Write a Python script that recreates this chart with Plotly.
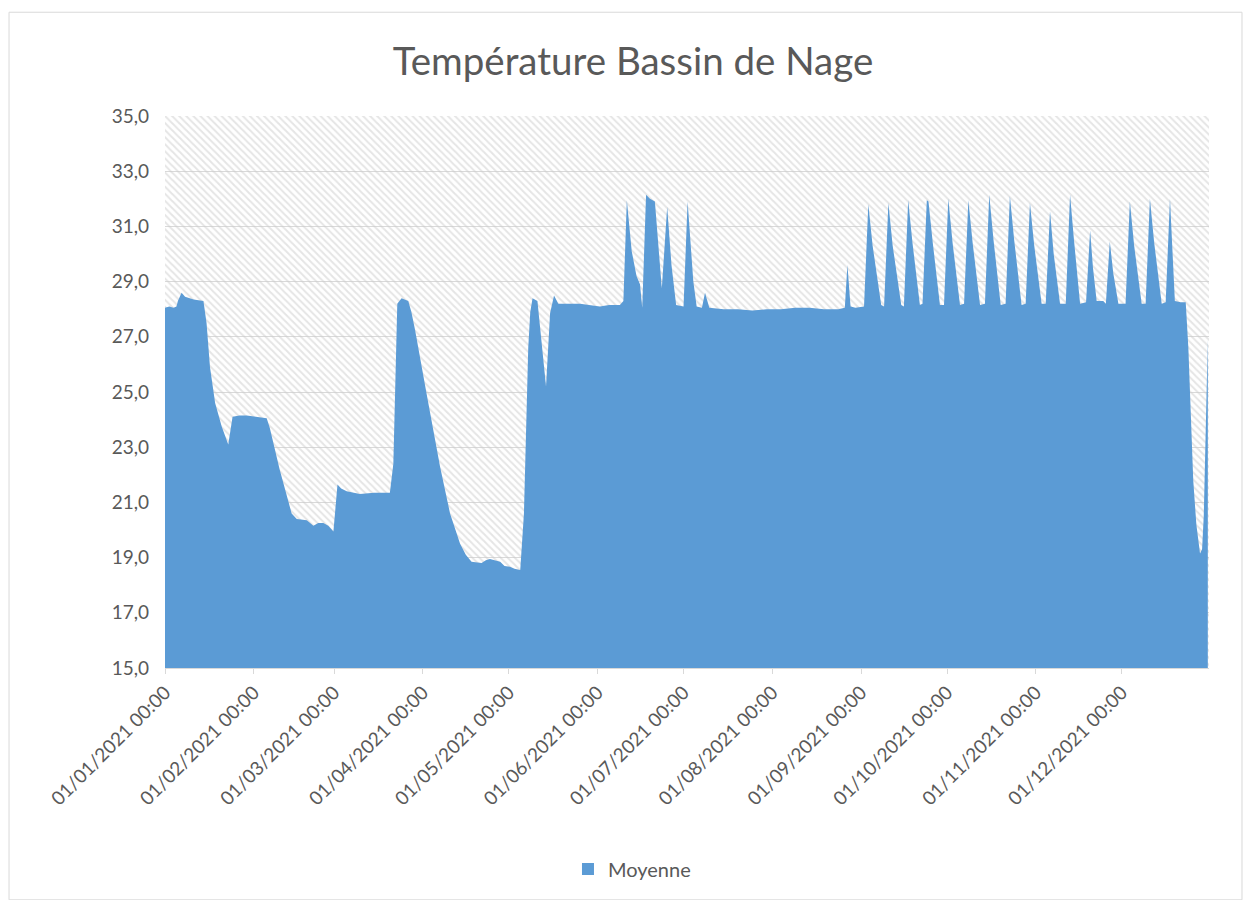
import plotly.graph_objects as go

# ---- data ----
dates = [
    "2021-01-01 00:00", "2021-01-02 12:00", "2021-01-04 00:00", "2021-01-05 00:00", "2021-01-05 12:00",
    "2021-01-06 19:00", "2021-01-08 00:00", "2021-01-11 00:00", "2021-01-14 10:00", "2021-01-15 12:00",
    "2021-01-16 17:00", "2021-01-18 12:00", "2021-01-20 19:00", "2021-01-23 02:00", "2021-01-24 14:00",
    "2021-01-27 00:00", "2021-01-29 12:00", "2021-02-02 00:00", "2021-02-05 12:00", "2021-02-06 14:00",
    "2021-02-10 00:00", "2021-02-14 05:00", "2021-02-16 00:00", "2021-02-19 12:00", "2021-02-21 19:00",
    "2021-02-23 12:00", "2021-02-25 07:00", "2021-02-27 00:00", "2021-02-28 19:00", "2021-03-02 05:00",
    "2021-03-03 12:00", "2021-03-05 10:00", "2021-03-10 00:00", "2021-03-15 00:00", "2021-03-20 12:00",
    "2021-03-21 17:00", "2021-03-22 12:00", "2021-03-23 02:00", "2021-03-24 14:00", "2021-03-26 22:00",
    "2021-03-28 00:00", "2021-03-29 07:00", "2021-04-02 07:00", "2021-04-07 00:00", "2021-04-10 12:00",
    "2021-04-14 00:00", "2021-04-16 00:00", "2021-04-18 00:00", "2021-04-21 12:00", "2021-04-23 00:00",
    "2021-04-24 10:00", "2021-04-26 00:00", "2021-04-28 00:00", "2021-04-29 12:00", "2021-05-01 10:00",
    "2021-05-03 00:00", "2021-05-05 00:00", "2021-05-06 07:00", "2021-05-07 00:00", "2021-05-07 19:00",
    "2021-05-08 12:00", "2021-05-09 07:00", "2021-05-11 00:00", "2021-05-12 12:00", "2021-05-14 00:00",
    "2021-05-15 10:00", "2021-05-16 19:00", "2021-05-18 07:00", "2021-05-22 00:00", "2021-05-25 22:00",
    "2021-05-29 00:00", "2021-06-01 19:00", "2021-06-05 00:00", "2021-06-08 19:00", "2021-06-10 00:00",
    "2021-06-11 05:00", "2021-06-12 22:00", "2021-06-14 14:00", "2021-06-15 19:00", "2021-06-16 14:00",
    "2021-06-17 22:00", "2021-06-19 07:00", "2021-06-21 00:00", "2021-06-23 10:00", "2021-06-25 07:00",
    "2021-06-26 19:00", "2021-06-28 10:00", "2021-07-01 00:00", "2021-07-02 10:00", "2021-07-04 10:00",
    "2021-07-05 14:00", "2021-07-07 10:00", "2021-07-08 12:00", "2021-07-10 00:00", "2021-07-15 00:00",
    "2021-07-20 00:00", "2021-07-25 00:00", "2021-07-30 00:00", "2021-08-04 00:00", "2021-08-09 00:00",
    "2021-08-14 00:00", "2021-08-19 00:00", "2021-08-24 00:00", "2021-08-26 07:00", "2021-08-27 05:00",
    "2021-08-28 07:00", "2021-08-30 00:00",
    "2021-09-02 00:00", "2021-09-03 12:00", "2021-09-05 00:00", "2021-09-08 00:00",
    "2021-09-09 00:00", "2021-09-10 12:00", "2021-09-12 00:00", "2021-09-15 00:00",
    "2021-09-15 22:00", "2021-09-17 10:00", "2021-09-18 22:00", "2021-09-21 12:00",
    "2021-09-22 10:00", "2021-09-23 22:00", "2021-09-24 12:00", "2021-09-26 00:00", "2021-09-28 12:00",
    "2021-09-29 22:00", "2021-10-01 10:00", "2021-10-02 22:00", "2021-10-05 12:00",
    "2021-10-06 22:00", "2021-10-08 10:00", "2021-10-09 22:00", "2021-10-12 12:00",
    "2021-10-14 05:00", "2021-10-15 17:00", "2021-10-17 05:00", "2021-10-19 17:00",
    "2021-10-21 10:00", "2021-10-22 22:00", "2021-10-24 10:00", "2021-10-27 00:00",
    "2021-10-28 10:00", "2021-10-29 22:00", "2021-10-31 10:00", "2021-11-03 00:00",
    "2021-11-04 10:00", "2021-11-05 22:00", "2021-11-07 05:00", "2021-11-09 10:00",
    "2021-11-11 10:00", "2021-11-12 22:00", "2021-11-14 07:00", "2021-11-16 10:00",
    "2021-11-18 12:00", "2021-11-19 22:00", "2021-11-20 22:00", "2021-11-22 05:00", "2021-11-24 12:00",
    "2021-11-25 10:00", "2021-11-26 19:00", "2021-11-28 00:00", "2021-11-29 19:00",
    "2021-12-02 07:00", "2021-12-03 19:00", "2021-12-05 07:00", "2021-12-07 22:00",
    "2021-12-09 07:00", "2021-12-10 19:00", "2021-12-12 07:00", "2021-12-14 22:00",
    "2021-12-16 07:00", "2021-12-17 19:00", "2021-12-18 14:00", "2021-12-19 12:00",
    "2021-12-21 12:00", "2021-12-23 07:00", "2021-12-24 05:00", "2021-12-25 22:00", "2021-12-27 00:00",
    "2021-12-28 07:00", "2021-12-29 00:00", "2021-12-29 14:00", "2021-12-30 14:00", "2021-12-31 00:00",
]

moyenne = [
    28.05, 28.1, 28.05, 28.1, 28.3,
    28.6, 28.45, 28.35, 28.3, 27.5,
    25.9, 24.6, 23.75, 23.1, 24.1,
    24.15, 24.15, 24.1, 24.05, 23.7,
    22.2, 20.6, 20.4, 20.35, 20.15,
    20.25, 20.25, 20.15, 19.95, 21.65,
    21.5, 21.4, 21.3, 21.35, 21.35,
    22.4, 26.0, 28.2, 28.4, 28.3,
    27.9, 27.25, 24.95, 22.3, 20.6,
    19.5, 19.1, 18.85, 18.8, 18.9,
    18.95, 18.9, 18.85, 18.7, 18.67,
    18.6, 18.55, 20.6, 24.0, 26.6,
    27.9, 28.4, 28.3, 26.8, 25.2,
    27.85, 28.5, 28.2, 28.2, 28.2,
    28.15, 28.1, 28.15, 28.15, 28.3,
    31.95, 30.1, 29.2, 28.9, 28.05,
    32.15, 32.0, 31.9, 28.75, 31.7,
    29.6, 28.15, 28.1, 31.9, 29.0,
    28.1, 28.05, 28.6, 28.05, 28.0,
    28.0, 27.95, 28.0, 28.0, 28.05,
    28.05, 28.0, 28.0, 28.05, 29.6,
    28.1, 28.05,
    28.1, 31.8, 30.3, 28.15,
    28.1, 31.85, 30.3, 28.15,
    28.1, 31.95, 30.4, 28.15,
    28.2, 31.95, 31.9, 30.4, 28.15,
    28.15, 32.0, 30.4, 28.15,
    28.2, 31.95, 30.4, 28.15,
    28.2, 32.15, 30.5, 28.15,
    28.2, 32.1, 30.5, 28.15,
    28.2, 31.85, 30.3, 28.2,
    28.2, 31.55, 30.0, 28.2,
    28.2, 32.15, 30.5, 28.2,
    28.25, 30.85, 29.5, 28.3, 28.3,
    28.2, 30.45, 29.3, 28.2,
    28.2, 31.9, 30.3, 28.2,
    28.2, 32.0, 30.4, 28.2,
    28.25, 32.0, 30.2, 28.3,
    28.25, 28.25, 26.6, 21.8, 20.2,
    19.15, 19.3, 20.5, 25.0, 26.9,
]

series_name = "Moyenne"
chart_title = "Température Bassin de Nage"
Y_MIN, Y_MAX, Y_STEP = 15, 35, 2
X_START, X_END = "2021-01-01 00:00", "2021-12-31 10:00"

BLUE = "#5b9bd5"
TEXT = "#595959"
GRID = "#d9d9d9"
FONT = "Lato"

fig = go.Figure()

# hatched plot-area background (Excel-like pattern fill)
fig.add_trace(go.Scatter(
    x=[X_START, X_END], y=[Y_MAX, Y_MAX], mode="lines", fill="tozeroy",
    line=dict(width=0), fillcolor="rgba(0,0,0,0)",
    fillpattern=dict(shape="\\", fgcolor="#cccccc", bgcolor="rgba(0,0,0,0)", size=5, solidity=0.4),
    hoverinfo="skip", showlegend=False,
))

fig.add_trace(go.Scatter(
    x=dates, y=moyenne, mode="lines", fill="tozeroy",
    line=dict(width=0, color=BLUE), fillcolor=BLUE,
    name=series_name, showlegend=False,
))
# legend entry: small square like Excel
fig.add_trace(go.Scatter(
    x=[None], y=[None], mode="markers", name=series_name,
    marker=dict(symbol="square", size=12, color=BLUE),
))

fig.update_layout(
    width=1244, height=892,
    margin=dict(l=157, r=43, t=108, b=232),
    paper_bgcolor="white", plot_bgcolor="white",
    separators=", ",
    title=dict(text=chart_title, x=0.5024, xref="container", xanchor="center",
               y=0.9395, yanchor="middle", font=dict(family=FONT, size=38.5, color=TEXT)),
    showlegend=True,
    legend=dict(orientation="h", x=0.386, xanchor="left", y=-0.364, yanchor="middle",
                font=dict(family=FONT, size=20, color=TEXT), itemsizing="constant"),
    xaxis=dict(
        type="date", range=[X_START, X_END], tick0="2021-01-01", dtick="M1",
        tickformat="%d/%m/%Y %H:%M", tickangle=-45,
        ticks="outside", ticklen=5, tickcolor=GRID,
        showline=True, linecolor=GRID, showgrid=False, zeroline=False,
        tickfont=dict(family=FONT, size=19, color=TEXT),
    ),
    yaxis=dict(
        range=[Y_MIN, Y_MAX], dtick=Y_STEP, tick0=Y_MIN, tickformat=".1f",
        showgrid=True, gridcolor=GRID, zeroline=False, showline=False, ticks="",
        ticklabelstandoff=15,
        tickfont=dict(family=FONT, size=19, color=TEXT),
    ),
    shapes=[dict(type="rect", xref="paper", yref="paper",
                 x0=-0.1494, x1=1.0316, y0=-0.42, y1=1.188,
                 line=dict(color=GRID, width=1), fillcolor="rgba(0,0,0,0)", layer="below")],
)

fig.write_html("out.html")
